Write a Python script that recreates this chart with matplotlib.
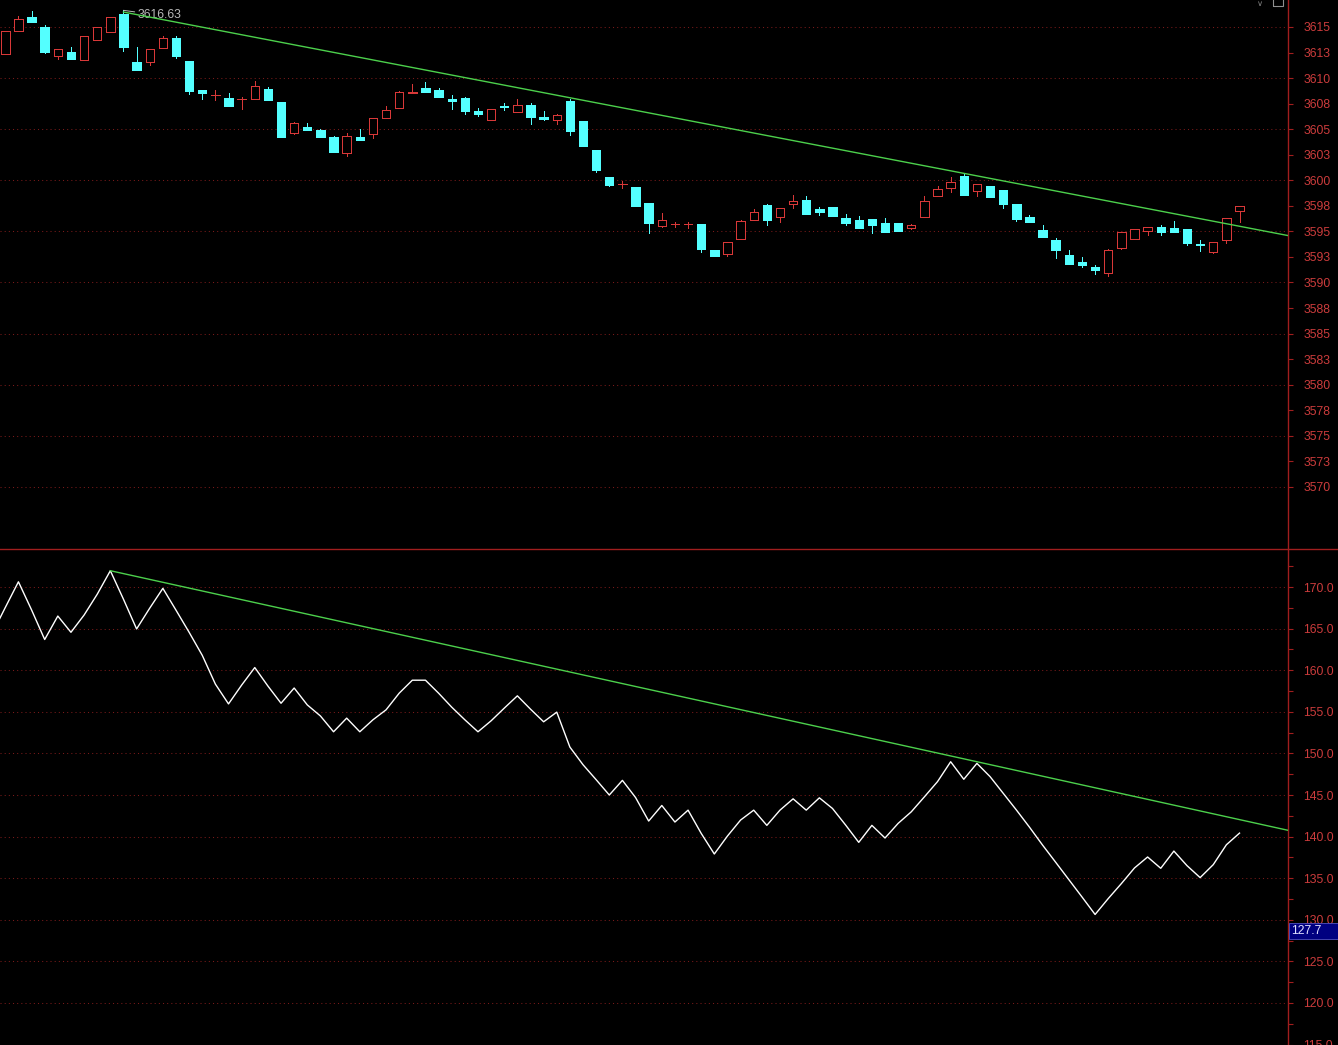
import matplotlib
matplotlib.use('Agg')
import matplotlib.pyplot as plt
from matplotlib.patches import Rectangle
from matplotlib.lines import Line2D
import numpy as np

# K-line bars (open, high, low, close), oldest first
opens = [3612.36, 3614.64, 3615.98, 3615.00, 3612.19, 3612.55, 3611.80, 3613.76, 3614.54, 3616.27,
         3611.58, 3611.60, 3612.97, 3613.92, 3611.67, 3608.84, 3608.30, 3608.05, 3607.95, 3607.99,
         3608.93, 3607.63, 3604.66, 3605.22, 3604.95, 3604.24, 3602.70, 3604.24, 3604.56, 3606.13,
         3607.10, 3608.58, 3609.03, 3608.81, 3607.96, 3608.05, 3606.78, 3605.93, 3607.24, 3606.72,
         3607.37, 3606.20, 3605.93, 3607.76, 3605.80, 3602.97, 3600.33, 3599.59, 3599.35, 3597.78,
         3595.56, 3595.68, 3595.75, 3595.70, 3593.18, 3592.82, 3594.29, 3596.12, 3597.59, 3596.38,
         3597.71, 3598.08, 3597.20, 3597.39, 3596.31, 3596.12, 3596.22, 3595.82, 3595.82, 3595.37,
         3596.44, 3598.50, 3599.28, 3600.42, 3598.99, 3599.44, 3599.05, 3597.68, 3596.41, 3595.14,
         3594.16, 3592.67, 3592.01, 3591.49, 3590.90, 3593.41, 3594.29, 3595.07, 3595.43, 3595.33,
         3595.24, 3593.72, 3593.02, 3594.19, 3597.03]
highs = [3614.61, 3616.08, 3616.55, 3615.17, 3612.82, 3613.04, 3614.09, 3614.97, 3615.98, 3616.63,
         3613.04, 3612.82, 3614.12, 3614.12, 3611.67, 3608.84, 3608.84, 3608.54, 3608.10, 3609.72,
         3609.10, 3607.63, 3605.71, 3605.58, 3605.02, 3604.30, 3604.63, 3605.02, 3606.07, 3607.24,
         3608.75, 3609.42, 3609.59, 3609.00, 3608.35, 3608.12, 3607.08, 3606.95, 3607.56, 3607.96,
         3607.56, 3606.78, 3606.49, 3607.96, 3605.80, 3602.97, 3600.33, 3599.96, 3599.35, 3597.78,
         3596.80, 3595.90, 3595.92, 3595.70, 3593.18, 3593.94, 3596.12, 3597.16, 3597.65, 3597.26,
         3598.57, 3598.47, 3597.39, 3597.39, 3596.71, 3596.51, 3596.22, 3596.31, 3595.82, 3595.73,
         3598.47, 3599.44, 3600.30, 3600.69, 3599.61, 3599.44, 3599.05, 3597.68, 3596.58, 3595.63,
         3594.36, 3593.18, 3592.47, 3591.72, 3593.28, 3594.95, 3595.21, 3595.43, 3595.63, 3596.02,
         3595.24, 3594.16, 3593.97, 3596.28, 3597.49]
lows = [3612.36, 3614.64, 3615.52, 3612.49, 3611.87, 3611.90, 3611.80, 3613.76, 3614.54, 3612.68,
        3610.82, 3611.28, 3612.97, 3612.00, 3608.47, 3607.99, 3607.86, 3607.30, 3607.00, 3607.99,
        3607.89, 3604.27, 3604.56, 3604.95, 3604.24, 3602.77, 3602.38, 3603.98, 3604.17, 3606.13,
        3607.05, 3608.58, 3608.67, 3608.18, 3607.00, 3606.52, 3606.32, 3605.93, 3606.88, 3606.72,
        3605.54, 3605.93, 3605.51, 3604.46, 3603.39, 3600.85, 3599.47, 3599.28, 3597.52, 3594.88,
        3595.46, 3595.46, 3595.33, 3593.02, 3592.63, 3592.60, 3594.29, 3596.12, 3595.66, 3595.95,
        3597.32, 3596.74, 3596.64, 3596.54, 3595.66, 3595.36, 3594.88, 3594.97, 3595.07, 3595.21,
        3596.44, 3598.50, 3598.89, 3598.59, 3598.50, 3598.40, 3597.32, 3596.05, 3595.95, 3594.48,
        3592.43, 3591.84, 3591.55, 3590.80, 3590.61, 3593.31, 3594.29, 3594.68, 3594.68, 3594.97,
        3593.70, 3593.12, 3592.92, 3593.90, 3595.92]
closes = [3614.61, 3615.75, 3615.52, 3612.55, 3612.82, 3611.90, 3614.09, 3614.97, 3615.98, 3613.07,
          3610.82, 3612.82, 3613.90, 3612.19, 3608.74, 3608.57, 3608.35, 3607.30, 3608.00, 3609.20,
          3607.89, 3604.27, 3605.58, 3604.95, 3604.24, 3602.77, 3604.30, 3603.98, 3606.07, 3606.85,
          3608.61, 3608.62, 3608.67, 3608.18, 3607.73, 3606.78, 3606.52, 3606.95, 3607.14, 3607.34,
          3606.20, 3606.00, 3606.39, 3604.86, 3603.39, 3601.01, 3599.54, 3599.62, 3597.52, 3595.86,
          3596.09, 3595.71, 3595.77, 3593.31, 3592.63, 3593.94, 3596.02, 3596.90, 3596.12, 3597.26,
          3597.98, 3596.74, 3596.93, 3596.54, 3595.85, 3595.36, 3595.66, 3594.97, 3595.07, 3595.63,
          3597.98, 3599.15, 3599.84, 3598.59, 3599.61, 3598.40, 3597.71, 3596.25, 3595.95, 3594.48,
          3593.21, 3591.84, 3591.75, 3591.26, 3593.18, 3594.95, 3595.21, 3595.43, 3594.97, 3594.97,
          3593.90, 3593.67, 3593.97, 3596.28, 3597.49]

# lower panel indicator, first value belongs to the bar just left of the view
indicator = [164.4,
             167.54, 170.63, 167.25, 163.69, 166.51, 164.56, 166.63, 169.13, 171.96, 168.53,
             164.96, 167.46, 169.84, 167.22, 164.56, 161.79, 158.33, 155.95, 158.21, 160.32,
             158.10, 156.03, 157.86, 155.83, 154.50, 152.60, 154.24, 152.60, 154.04, 155.24,
             157.24, 158.80, 158.80, 157.24, 155.56, 154.04, 152.60, 153.92, 155.44, 156.92,
             155.32, 153.80, 154.96, 150.76, 148.64, 146.84, 145.00, 146.76, 144.70, 141.87,
             143.74, 141.75, 143.18, 140.39, 137.91, 140.07, 141.99, 143.18, 141.35, 143.18,
             144.54, 143.18, 144.66, 143.38, 141.39, 139.31, 141.35, 139.83, 141.59, 142.98,
             144.78, 146.61, 149.00, 146.89, 148.80, 147.21, 145.21, 143.21, 141.14, 138.98,
             136.91, 134.83, 132.75, 130.64, 132.55, 134.35, 136.23, 137.55, 136.19, 138.26,
             136.51, 135.07, 136.63, 139.02, 140.42]
indicator_first_bar = -1

# hand drawn trend lines: two anchor points each (bar index, value)
price_trend_x = [9, 73]
price_trend_y = [3616.46, 3600.68]
ind_trend_x = [8, 74]
ind_trend_y = [171.96, 149.00]

max_bar = 9
max_text = "3616.63"
cursor_text = "127.7"

price_ticks = np.arange(3570, 3615.01, 2.5)
price_grid = np.arange(3570, 3615.01, 5)
ind_ticks = np.arange(115, 170.01, 5)
ind_minor = np.arange(117.5, 172.6, 5)

W, H = 1338, 1045
BAR_PX = 13.13
X0_PX = 5.3
AXIS_PX = 1287.5

UP = '#D83838'
DOWN = '#54FFFF'
AXIS_RED = '#A01E1E'
LABEL_RED = '#CC3C3C'
GRID_RED = '#7A1A1A'
TREND = '#4CD04C'
FONT = 'Liberation Sans'

xmin = -X0_PX / BAR_PX
xmax = xmin + AXIS_PX / BAR_PX


def style_axis(ax):
    ax.set_facecolor('black')
    for side in ['top', 'left', 'bottom']:
        ax.spines[side].set_visible(False)
    ax.spines['right'].set_color(AXIS_RED)
    ax.spines['right'].set_linewidth(1.0)
    ax.set_xlim(xmin, xmax)
    ax.set_xticks([])
    ax.yaxis.tick_right()
    ax.tick_params(axis='y', which='both', colors=AXIS_RED, labelcolor=LABEL_RED,
                   direction='out', length=3.6, width=0.8, pad=8, labelsize=8.8)
    for lab in ax.get_yticklabels():
        lab.set_fontfamily(FONT)


def trend_line(ax, xs, ys):
    slope = (ys[1] - ys[0]) / (xs[1] - xs[0])
    x_end = xmax
    y_end = ys[0] + slope * (x_end - xs[0])
    ax.plot([xs[0], x_end], [ys[0], y_end], color=TREND, lw=1.0, zorder=5)


def draw_candles(ax):
    width = 0.64
    for i in range(len(opens)):
        o, h, l, c = opens[i], highs[i], lows[i], closes[i]
        top, bot = max(o, c), min(o, c)
        if c >= o:
            ax.vlines(i, top, h, color=UP, lw=0.72, antialiased=False, zorder=3)
            ax.vlines(i, l, bot, color=UP, lw=0.72, antialiased=False, zorder=3)
            ax.add_patch(Rectangle((i - width / 2, bot), width, top - bot, facecolor='black',
                                   edgecolor=UP, lw=0.72, antialiased=False, zorder=4))
        else:
            ax.vlines(i, l, h, color=DOWN, lw=0.72, antialiased=False, zorder=3)
            ax.add_patch(Rectangle((i - width / 2, bot), width, max(top - bot, 0.1), facecolor=DOWN,
                                   edgecolor=DOWN, lw=0.5, antialiased=False, zorder=4))


fig = plt.figure(figsize=(W / 100, H / 100), dpi=100, facecolor='black')
ax1 = fig.add_axes([0, 1 - 548 / H, AXIS_PX / W, 548 / H])
ax2 = fig.add_axes([0, 0, AXIS_PX / W, 495 / H])

# price panel
ax1.set_ylim(3564.02, 3617.64)
for v in price_grid:
    ax1.axhline(v, color=GRID_RED, lw=0.75, ls=(0, (1, 3)), zorder=1)
draw_candles(ax1)
trend_line(ax1, price_trend_x, price_trend_y)
ax1.set_yticks(price_ticks)
ax1.set_yticklabels([str(int(v + 0.5)) for v in price_ticks])
style_axis(ax1)
ax1.annotate(max_text, xy=(max_bar, highs[max_bar]), xytext=(14, -5), textcoords='offset pixels',
             color='#B8B8B8', fontsize=8.8, family=FONT, va='center', ha='left',
             arrowprops=dict(arrowstyle='-', color='#B8B8B8', lw=0.7, shrinkA=0, shrinkB=0))

# indicator panel
ax2.set_ylim(114.95, 174.45)
for v in ind_ticks:
    ax2.axhline(v, color=GRID_RED, lw=0.75, ls=(0, (1, 3)), zorder=1)
ind_x = np.arange(len(indicator)) + indicator_first_bar
ax2.plot(ind_x, indicator, color='white', lw=1.0, zorder=4)
trend_line(ax2, ind_trend_x, ind_trend_y)
ax2.set_yticks(ind_ticks)
ax2.set_yticklabels(['%.1f' % v for v in ind_ticks])
ax2.set_yticks(ind_minor, minor=True)
style_axis(ax2)

# panel separator
fig.add_artist(Line2D([0, 1], [1 - 549 / H] * 2, color=AXIS_RED, lw=1.0, transform=fig.transFigure))

# current value box on the lower scale
fig.add_artist(Rectangle((1289 / W, 1 - 939 / H), 49 / W, 16 / H, transform=fig.transFigure,
                         facecolor='#000080', edgecolor='#5050C0', lw=0.6))
fig.text(1291 / W, 1 - 931 / H, cursor_text, color='#E0E0FF', fontsize=8.8, family=FONT,
         va='center', ha='left')

# little toolbar icons in the top right corner
fig.text(1260 / W, 1 - 4 / H, '\u2228', color='#808080', fontsize=6, va='center', ha='center')
fig.add_artist(Rectangle((1273 / W, 1 - 6 / H), 10 / W, 8 / H, transform=fig.transFigure,
                         facecolor='none', edgecolor='#909090', lw=0.8))

fig.savefig('out.png', dpi=100, facecolor='black')
